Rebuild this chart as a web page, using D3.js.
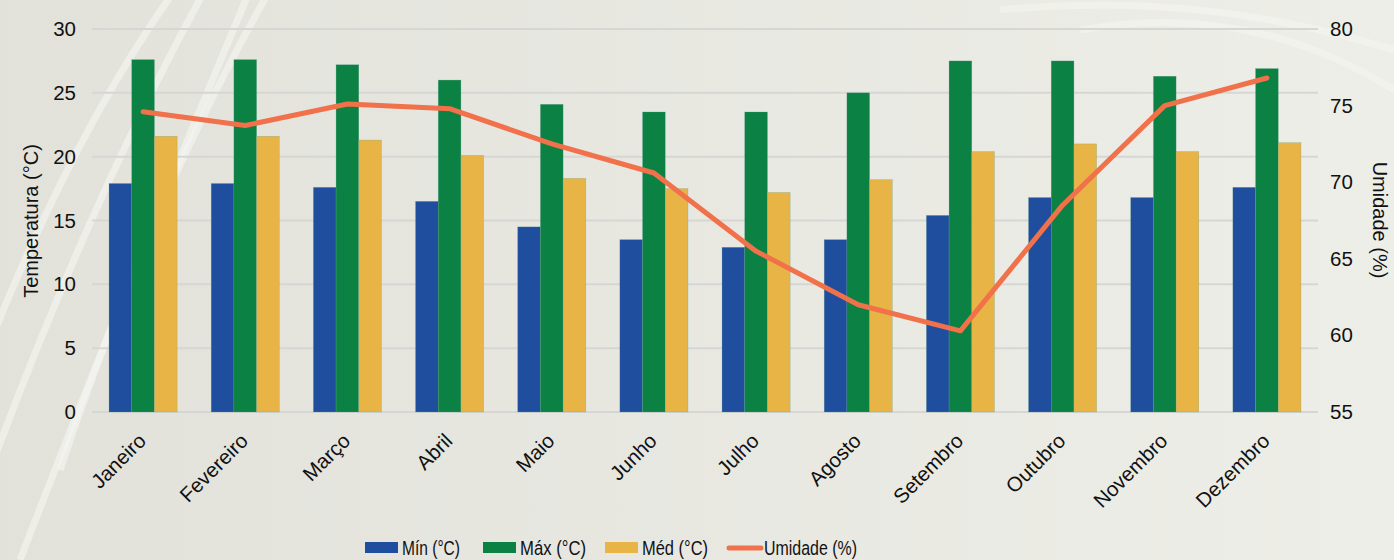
<!DOCTYPE html>
<html>
<head>
<meta charset="utf-8">
<script src="https://cdnjs.cloudflare.com/ajax/libs/d3/7.8.5/d3.min.js"></script>
<style>
  html, body { margin: 0; padding: 0; }
  body { width: 1394px; height: 560px; overflow: hidden; }
  text { font-family: "Liberation Sans", Arial, sans-serif; fill: #111; }
</style>
</head>
<body>
<svg id="chart" width="1394" height="560"></svg>
<script>
// data
const months = ["Janeiro", "Fevereiro", "Março", "Abril", "Maio", "Junho",
                "Julho", "Agosto", "Setembro", "Outubro", "Novembro", "Dezembro"];
const tMin = [17.9, 17.9, 17.6, 16.5, 14.5, 13.5, 12.9, 13.5, 15.4, 16.8, 16.8, 17.6];
const tMax = [27.6, 27.6, 27.2, 26.0, 24.1, 23.5, 23.5, 25.0, 27.5, 27.5, 26.3, 26.9];
const tMed = [21.6, 21.6, 21.3, 20.1, 18.3, 17.5, 17.2, 18.2, 20.4, 21.0, 20.4, 21.1];
const humidity = [74.6, 73.7, 75.1, 74.8, 72.5, 70.6, 65.5, 62.0, 60.3, 68.5, 75.0, 76.8];
const leftTicks = [0, 5, 10, 15, 20, 25, 30];
const rightTicks = [55, 60, 65, 70, 75, 80];

const seriesNames = ["Mín (°C)", "Máx (°C)", "Méd (°C)"];
const seriesData = [tMin, tMax, tMed];
const colors = ["#1f4e9e", "#0b8143", "#e8b445"];
const lineColor = "#f0714a";

const svg = d3.select("#chart");

// background
const defs = svg.append("defs");
const grad = defs.append("linearGradient").attr("id", "bg")
    .attr("x1", "0").attr("y1", "0").attr("x2", "1").attr("y2", "0");
grad.append("stop").attr("offset", "0").attr("stop-color", "#e2e2db");
grad.append("stop").attr("offset", "1").attr("stop-color", "#eeeee8");
svg.append("rect").attr("width", 1394).attr("height", 560).attr("fill", "url(#bg)");

// faint white streaks
const streaks = [
    "M -40 420 Q 60 150 175 -10",
    "M -10 470 Q 90 200 205 -10",
    "M 60 470 Q 150 200 270 -10",
    "M 20 560 Q 120 300 250 -10",
    "M 1000 10 Q 1200 -10 1394 50",
    "M 1080 30 Q 1250 0 1394 90"
];
svg.append("g").selectAll("path").data(streaks).enter().append("path")
    .attr("d", d => d)
    .attr("fill", "none")
    .attr("stroke", "#f4f4f0")
    .attr("stroke-width", 7)
    .attr("opacity", 0.7);

const pLeft = 92, pRight = 1318, pTop = 29, pBottom = 412;

const x = d3.scaleBand().domain(months).range([pLeft, pRight]).paddingInner(0).paddingOuter(0);
const xs = d3.scaleBand().domain(d3.range(3)).range([0, x.bandwidth()]).paddingInner(0).paddingOuter(0.75);
const y = d3.scaleLinear().domain([0, 30]).range([pBottom, pTop]);
const y2 = d3.scaleLinear().domain([55, 80]).range([pBottom, pTop]);

// gridlines
svg.append("g").selectAll("line").data(leftTicks).enter().append("line")
    .attr("x1", pLeft).attr("x2", pRight)
    .attr("y1", d => y(d)).attr("y2", d => y(d))
    .attr("stroke", "#d6d6d4").attr("stroke-width", 2);

// bars
seriesData.forEach(function (vals, s) {
    svg.append("g").selectAll("rect").data(vals).enter().append("rect")
        .attr("x", (d, i) => x(months[i]) + xs(s))
        .attr("width", xs.bandwidth())
        .attr("y", d => y(d))
        .attr("height", d => y(0) - y(d))
        .attr("fill", colors[s])
        .attr("stroke", "#5f9f8f")
        .attr("stroke-width", 0.5)
        .attr("stroke-opacity", 0.5);
});

// humidity line
const line = d3.line()
    .x((d, i) => x(months[i]) + x.bandwidth() / 2)
    .y(d => y2(d));
svg.append("path").datum(humidity)
    .attr("d", line)
    .attr("fill", "none")
    .attr("stroke", lineColor)
    .attr("stroke-width", 5)
    .attr("stroke-linecap", "round")
    .attr("stroke-linejoin", "round");

// left axis
const yAxis = svg.append("g")
    .attr("transform", "translate(" + (pLeft - 16) + ",0)")
    .call(d3.axisLeft(y).tickValues(leftTicks).tickSize(0).tickPadding(0));
yAxis.select(".domain").remove();
yAxis.selectAll("text").style("font-size", "20.5px").attr("fill", "#111")
    .style("font-family", "'Liberation Sans', Arial, sans-serif");

// right axis
const y2Axis = svg.append("g")
    .attr("transform", "translate(" + (pRight + 12) + ",0)")
    .call(d3.axisRight(y2).tickValues(rightTicks).tickSize(0).tickPadding(0));
y2Axis.select(".domain").remove();
y2Axis.selectAll("text").style("font-size", "20.5px").attr("fill", "#111")
    .style("font-family", "'Liberation Sans', Arial, sans-serif");

// x labels
svg.append("g").selectAll("text").data(months).enter().append("text")
    .attr("transform", d => "translate(" + (x(d) + x.bandwidth() / 2 - 6) + ",432) rotate(-45)")
    .attr("text-anchor", "end")
    .attr("dy", "0.7em")
    .style("font-size", "20.5px")
    .text(d => d);

// axis titles
svg.append("text")
    .attr("transform", "translate(38,221) rotate(-90)")
    .attr("text-anchor", "middle")
    .style("font-size", "20px")
    .text("Temperatura (°C)");
svg.append("text")
    .attr("transform", "translate(1373,220) rotate(90)")
    .attr("text-anchor", "middle")
    .style("font-size", "20px")
    .text("Umidade (%)");

// legend
const legendItems = [
    { name: seriesNames[0], color: colors[0], type: "rect", x: 365, w: 58 },
    { name: seriesNames[1], color: colors[1], type: "rect", x: 483, w: 66 },
    { name: seriesNames[2], color: colors[2], type: "rect", x: 605, w: 66 },
    { name: "Umidade (%)", color: lineColor, type: "line", x: 727, w: 93 }
];
const lg = svg.append("g");
legendItems.forEach(function (it) {
    if (it.type === "rect") {
        lg.append("rect").attr("x", it.x).attr("y", 542).attr("width", 33).attr("height", 11).attr("fill", it.color);
    } else {
        lg.append("line").attr("x1", it.x + 2).attr("x2", it.x + 34).attr("y1", 548).attr("y2", 548)
            .attr("stroke", it.color).attr("stroke-width", 5).attr("stroke-linecap", "round");
    }
    lg.append("text")
        .attr("x", it.x + 37).attr("y", 555)
        .style("font-size", "20.5px")
        .attr("textLength", it.w)
        .attr("lengthAdjust", "spacingAndGlyphs")
        .text(it.name);
});
</script>
</body>
</html>
